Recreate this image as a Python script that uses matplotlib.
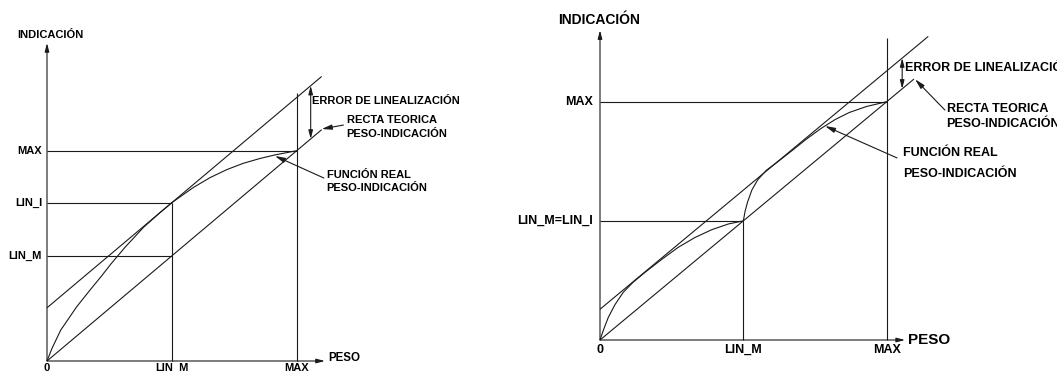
import matplotlib
matplotlib.use("Agg")
import matplotlib.pyplot as plt

plt.rcParams['font.family'] = ['Liberation Sans', 'DejaVu Sans']

# ---------------- data (normalised: MAX = 1) ----------------
# left panel
L_LIN_M = 0.5
L_LIN_I = 0.753
L_MAX = 1.0
left_curve_x = [0.0, 0.02, 0.055, 0.119, 0.172, 0.219, 0.255, 0.312, 0.386, 0.45, 0.5,
                0.586, 0.653, 0.72, 0.786, 0.853, 0.913, 1.0]
left_curve_y = [0.0, 0.06, 0.147, 0.258, 0.337, 0.405, 0.46, 0.54, 0.635, 0.703, 0.753,
                0.825, 0.872, 0.91, 0.94, 0.963, 0.98, 1.0]
left_ytick_labels = ["MAX", "LIN_I", "LIN_M"]
left_ytick_values = [L_MAX, L_LIN_I, L_LIN_M]
left_xtick_labels = ["0", "LIN_M", "MAX"]
left_xtick_values = [0.0, L_LIN_M, L_MAX]

# right panel
R_LIN = 0.5
R_MAX = 1.0
R_UPPER_OFFSET = 0.129
right_curve_x = [0.0, 0.012, 0.029, 0.052, 0.081, 0.116, 0.157, 0.215, 0.273, 0.331, 0.39,
                 0.448, 0.5,
                 0.506, 0.515, 0.53, 0.55, 0.58, 0.62, 0.67, 0.72, 0.77, 0.82, 0.87,
                 0.93, 1.0]
right_curve_y = [0.0, 0.042, 0.095, 0.148, 0.2, 0.243, 0.284, 0.338, 0.389, 0.43, 0.463,
                 0.487, 0.5,
                 0.54, 0.58, 0.63, 0.672, 0.712, 0.748, 0.795, 0.843, 0.887, 0.925,
                 0.955, 0.98, 1.0]
right_ytick_labels = ["MAX", "LIN_M=LIN_I"]
right_ytick_values = [R_MAX, R_LIN]
right_xtick_labels = ["0", "LIN_M", "MAX"]
right_xtick_values = [0.0, R_LIN, R_MAX]

title_y = "INDICACIÓN"
title_x = "PESO"
txt_error = "ERROR DE LINEALIZACIÓN"
txt_recta = ["RECTA TEORICA", "PESO-INDICACIÓN"]
txt_func = ["FUNCIÓN REAL", "PESO-INDICACIÓN"]

# ---------------- figure ----------------
W, H = 1057, 371
fig = plt.figure(figsize=(W / 100, H / 100), dpi=100)
fig.patch.set_facecolor("white")

LW = 0.8
C = "#1a1a1a"


def make_axes(px0, px1, ox, oy, sx, sy):
    ax = fig.add_axes([px0 / W, 0, (px1 - px0) / W, 1])
    ax.set_xlim((px0 - ox) / sx, (px1 - ox) / sx)
    ax.set_ylim((oy - H) / sy, oy / sy)
    ax.axis("off")
    return ax


def arrow(ax, xy_from, xy_to, style="-|>", hl=0.5, hw=0.13):
    ax.annotate("", xy=xy_to, xytext=xy_from,
                arrowprops=dict(arrowstyle=f"{style},head_length={hl},head_width={hw}",
                                lw=LW, color=C, shrinkA=0, shrinkB=0,
                                mutation_scale=10),
                annotation_clip=False)


def draw_panel(ax, lin_x, lin_y, upper_off, curve_x, curve_y, ytl, ytv, xtl, xtv,
               ylabel_x, fs, fs_ax, cfg):
    kw = dict(color=C, lw=LW, solid_capstyle="butt")
    # axes with arrows
    arrow(ax, (0, 0), (0, cfg["ytop"]))
    arrow(ax, (0, 0), (cfg["xright"], 0))
    # reference lines
    ax.plot([0, 1], [1, 1], **kw)
    ax.plot([1, 1], [0, cfg["maxtop"]], **kw)
    ax.plot([0, lin_x], [lin_y, lin_y], **kw)
    ax.plot([lin_x, lin_x], [0, lin_y], **kw)
    if cfg.get("lin_m_y") is not None:
        ax.plot([0, lin_x], [cfg["lin_m_y"], cfg["lin_m_y"]], **kw)
    # lower (theoretical) line and upper parallel line
    ax.plot([0, cfg["lower_end"]], [0, cfg["lower_end"]], **kw)
    ax.plot([0, cfg["upper_end"]], [upper_off, cfg["upper_end"] + upper_off], **kw)
    # real curve
    ax.plot(curve_x, curve_y, **kw)
    # error arrow
    ex = cfg["err_x"]
    arrow(ax, (ex, ex), (ex, ex + upper_off), style="<|-|>", hl=0.5, hw=0.13)
    # texts
    tkw = dict(fontweight="bold", color="black", clip_on=False)
    ax.text(cfg["ylab_pos"][0], cfg["ylab_pos"][1], title_y, ha="center", va="center",
            fontsize=fs_ax, **tkw)
    ax.text(cfg["xlab_pos"][0], cfg["xlab_pos"][1], title_x, ha="left", va="center",
            fontsize=cfg["fs_peso"], **tkw)
    for lab, v in zip(ytl, ytv):
        ax.text(ylabel_x, v, lab, ha="right", va="center", fontsize=fs, **tkw)
    for lab, v in zip(xtl, xtv):
        ax.text(v, cfg["xtick_y"], lab, ha="center", va="top", fontsize=fs, **tkw)
    ax.text(cfg["err_txt"][0], cfg["err_txt"][1], txt_error, ha="left", va="center",
            fontsize=fs, **tkw)
    ax.text(cfg["recta_txt"][0], cfg["recta_txt"][1], txt_recta[0], ha="left", va="center",
            fontsize=fs, **tkw)
    ax.text(cfg["recta_txt"][0], cfg["recta_txt"][2], txt_recta[1], ha="left", va="center",
            fontsize=fs, **tkw)
    ax.text(cfg["func_txt"][0], cfg["func_txt"][1], txt_func[0], ha="left", va="center",
            fontsize=fs, **tkw)
    ax.text(cfg["func_txt"][0], cfg["func_txt"][2], txt_func[1], ha="left", va="center",
            fontsize=fs, **tkw)
    # pointers
    arrow(ax, cfg["recta_ptr"][0], cfg["recta_ptr"][1], hl=0.6, hw=0.15)
    arrow(ax, cfg["func_ptr"][0], cfg["func_ptr"][1], hl=0.6, hw=0.15)


# left panel: origin px (47,361), 249.7 px/unit in x, 210.3 px/unit in y
axL = make_axes(0, 530, 47, 361, 249.7, 210.3)
draw_panel(axL, L_LIN_M, L_LIN_I, L_LIN_I - L_LIN_M, left_curve_x, left_curve_y,
           left_ytick_labels, left_ytick_values, left_xtick_labels, left_xtick_values,
           -0.02, 8, 8, dict(
               ytop=1.512, xright=1.113, maxtop=1.273, lin_m_y=L_LIN_M,
               lower_end=1.1, upper_end=1.1, err_x=1.056,
               ylab_pos=(0.012, 1.55), xlab_pos=(1.125, 0.014), fs_peso=8.3,
               xtick_y=-0.01,
               err_txt=(1.062, 1.238), recta_txt=(1.2, 1.146, 1.079),
               func_txt=(1.12, 0.884, 0.821),
               recta_ptr=((1.187, 1.122), (1.1, 1.103)),
               func_ptr=((1.109, 0.870), (0.913, 0.975)),
           ))

# right panel: origin px (600,340), 286.7 px/unit in x, 238.3 px/unit in y
axR = make_axes(530, 1057, 600, 340, 286.7, 238.3)
draw_panel(axR, R_LIN, R_LIN, R_UPPER_OFFSET, right_curve_x, right_curve_y,
           right_ytick_labels, right_ytick_values, right_xtick_labels, right_xtick_values,
           -0.024, 9, 10, dict(
               ytop=1.30, xright=1.064, maxtop=1.266, lin_m_y=None,
               lower_end=1.095, upper_end=1.145, err_x=1.054,
               ylab_pos=(-0.003, 1.343), xlab_pos=(1.074, 0.0), fs_peso=11,
               xtick_y=-0.018,
               err_txt=(1.064, 1.14), recta_txt=(1.209, 0.969, 0.905),
               func_txt=(1.058, 0.783, 0.695),
               recta_ptr=((1.203, 0.965), (1.099, 1.094)),
               func_ptr=((1.036, 0.764), (0.785, 0.898)),
           ))

fig.savefig("out.png", dpi=100, facecolor="white")
